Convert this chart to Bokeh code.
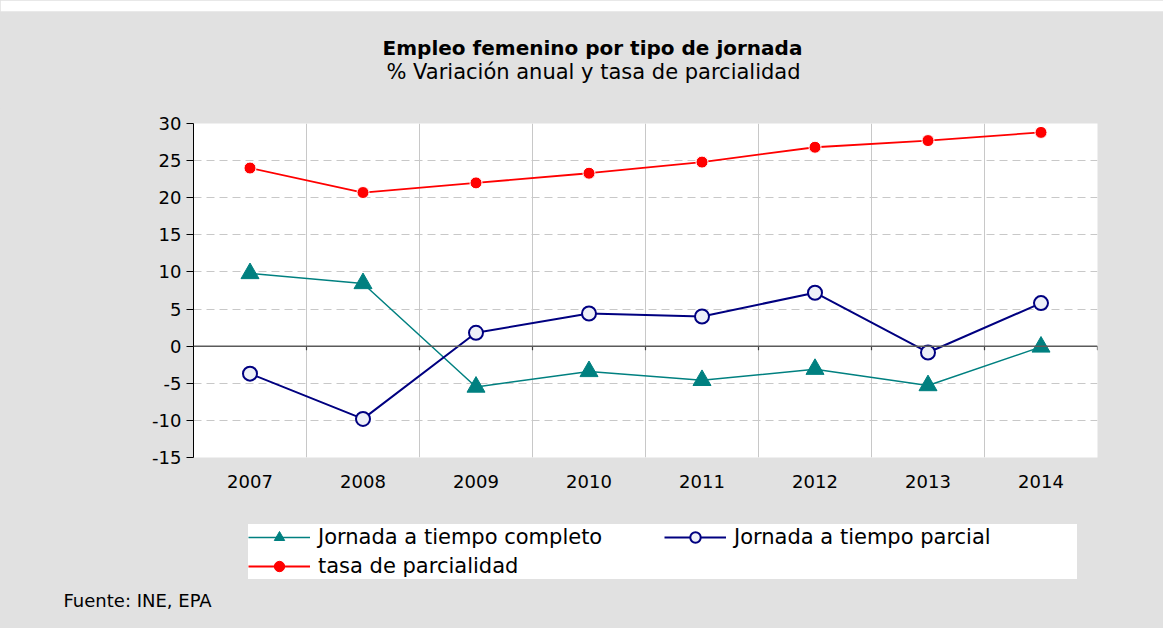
from bokeh.plotting import figure
from bokeh.layouts import column
from bokeh.models import (Range1d, FixedTicker, Span, Label, Legend, LegendItem)
from bokeh.embed import file_html
from bokeh.resources import INLINE

years = [2007, 2008, 2009, 2010, 2011, 2012, 2013, 2014]
completo = [9.8, 8.45, -5.5, -3.4, -4.6, -3.1, -5.3, -0.1]
parcial = [-3.7, -9.8, 1.8, 4.4, 4.0, 7.2, -0.85, 5.8]
tasa = [24.0, 20.7, 22.0, 23.3, 24.8, 26.8, 27.7, 28.8]
y_ticks = [-15, -10, -5, 0, 5, 10, 15, 20, 25, 30]
y_tick_labels = ["-15", "-10", "-5", "0", "5", "10", "15", "20", "25", "30"]
series_names = ["Jornada a tiempo completo", "Jornada a tiempo parcial", "tasa de parcialidad"]

FONT = "DejaVu Sans"
BG = "#e1e1e1"
TEAL = "#008080"
NAVY = "#000080"
RED = "#ff0000"
CIRCLE_FILL = "#eef0f8"

W = 1163
H_TOP, H_MAIN, H_BOT = 108, 394, 126


def blank(h, top_border=0):
    f = figure(width=W, height=h, output_backend="svg", toolbar_location=None,
               x_axis_type=None, y_axis_type=None,
               x_range=Range1d(0, W), y_range=Range1d(0, h - top_border),
               min_border=0, min_border_left=0, min_border_right=0,
               min_border_top=top_border, min_border_bottom=0, frame_align=False)
    f.background_fill_color = BG
    f.border_fill_color = "white"
    f.outline_line_color = None
    f.xgrid.visible = False
    f.ygrid.visible = False
    return f


# ---------- top: titles ----------
top = blank(H_TOP, top_border=11)
top.add_layout(Label(x=592, y=H_TOP - 47, x_units="screen", y_units="screen",
                     text="Empleo femenino por tipo de jornada", text_align="center",
                     text_baseline="middle", text_font=FONT, text_font_size="20px",
                     text_font_style="bold", text_color="black"))
top.add_layout(Label(x=593, y=H_TOP - 71, x_units="screen", y_units="screen",
                     text="% Variación anual y tasa de parcialidad", text_align="center",
                     text_baseline="middle", text_font=FONT, text_font_size="21px",
                     text_color="black"))

# ---------- main chart ----------
p = figure(width=W, height=H_MAIN, output_backend="svg", toolbar_location=None,
           x_range=Range1d(years[0] - 0.5, years[-1] + 0.5),
           y_range=Range1d(y_ticks[0], y_ticks[-1]),
           min_border_left=193, min_border_right=W - 1097,
           min_border_top=15, min_border_bottom=45, frame_align=False)
p.background_fill_color = "white"
p.border_fill_color = BG
p.outline_line_color = None

p.yaxis.ticker = FixedTicker(ticks=y_ticks)
p.yaxis.major_label_overrides = {t: s for t, s in zip(y_ticks, y_tick_labels)}
p.yaxis.axis_line_color = "black"
p.yaxis.major_tick_line_color = "black"
p.yaxis.major_tick_out = 7
p.yaxis.major_tick_in = 0
p.yaxis.minor_tick_line_color = None
p.yaxis.major_label_standoff = 5
p.yaxis.major_label_text_font = FONT
p.yaxis.major_label_text_font_size = "18px"
p.yaxis.major_label_text_color = "black"

p.xaxis.ticker = FixedTicker(ticks=years)
p.xaxis.axis_line_color = None
p.xaxis.major_tick_line_color = None
p.xaxis.minor_tick_line_color = None
p.xaxis.major_tick_out = 0
p.xaxis.major_label_standoff = 17
p.xaxis.major_label_text_font = FONT
p.xaxis.major_label_text_font_size = "18px"
p.xaxis.major_label_text_color = "black"

bounds = [y + 0.5 for y in years]
p.xgrid.ticker = FixedTicker(ticks=bounds[:-1])
p.xgrid.grid_line_color = "#c8c8c8"
p.xgrid.grid_line_width = 1
p.ygrid.ticker = FixedTicker(ticks=[t for t in y_ticks if t not in (y_ticks[0], 0, y_ticks[-1])])
p.ygrid.grid_line_color = "#c8c8c8"
p.ygrid.grid_line_dash = "8 5"
p.ygrid.grid_line_width = 1

# zero line with small ticks at category boundaries
p.add_layout(Span(location=0, dimension="width", line_color="#5a5a5a", line_width=1.5))
p.segment(x0=bounds, x1=bounds, y0=[0] * len(bounds), y1=[-0.55] * len(bounds),
          line_color="#404040", line_width=1.2)

p.line(years, completo, line_color=TEAL, line_width=1.5)
p.scatter(years, completo, marker="triangle", size=18, fill_color=TEAL, line_color=TEAL)
p.line(years, parcial, line_color=NAVY, line_width=2)
p.scatter(years, parcial, marker="circle", size=14, fill_color=CIRCLE_FILL,
          line_color=NAVY, line_width=2)
p.line(years, tasa, line_color=RED, line_width=1.8)
p.scatter(years, tasa, marker="circle", size=12, fill_color=RED,
          line_color="white", line_width=1)

# ---------- bottom: legend + source ----------
# legend swatches: same series, which fall outside this panel's visible range
bot = blank(H_BOT)
k1 = bot.line(years, completo, line_color=TEAL, line_width=1.5)
s1 = bot.scatter(years, completo, marker="triangle", fill_color=TEAL, line_color=TEAL)
k2 = bot.line(years, parcial, line_color=NAVY, line_width=2)
s2 = bot.scatter(years, parcial, marker="circle", fill_color=CIRCLE_FILL,
                 line_color=NAVY, line_width=2)
k3 = bot.line(years, tasa, line_color=RED, line_width=1.8)
s3 = bot.scatter(years, tasa, marker="circle", fill_color=RED, line_color=RED)

legend = Legend(items=[
    LegendItem(label=series_names[0], renderers=[k1, s1]),
    LegendItem(label=series_names[1], renderers=[k2, s2]),
    LegendItem(label=series_names[2], renderers=[k3, s3]),
], location=(248, 49), orientation="horizontal", nrows=2,
   glyph_width=62, glyph_height=26, label_standoff=8, spacing=3, padding=7,
   label_width=343,
   margin=0, border_line_color=None, background_fill_color="white",
   background_fill_alpha=1.0, label_text_font=FONT, label_text_font_size="21px",
   label_text_color="black", label_text_baseline="middle")
bot.add_layout(legend, "center")

bot.add_layout(Label(x=63, y=28, x_units="screen", y_units="screen",
                     text="Fuente: INE, EPA", text_align="left", text_baseline="middle",
                     text_font=FONT, text_font_size="18px", text_color="black"))

layout = column(top, p, bot, spacing=0, styles={"background-color": BG})
open("out.html", "w").write(file_html(layout, INLINE))
